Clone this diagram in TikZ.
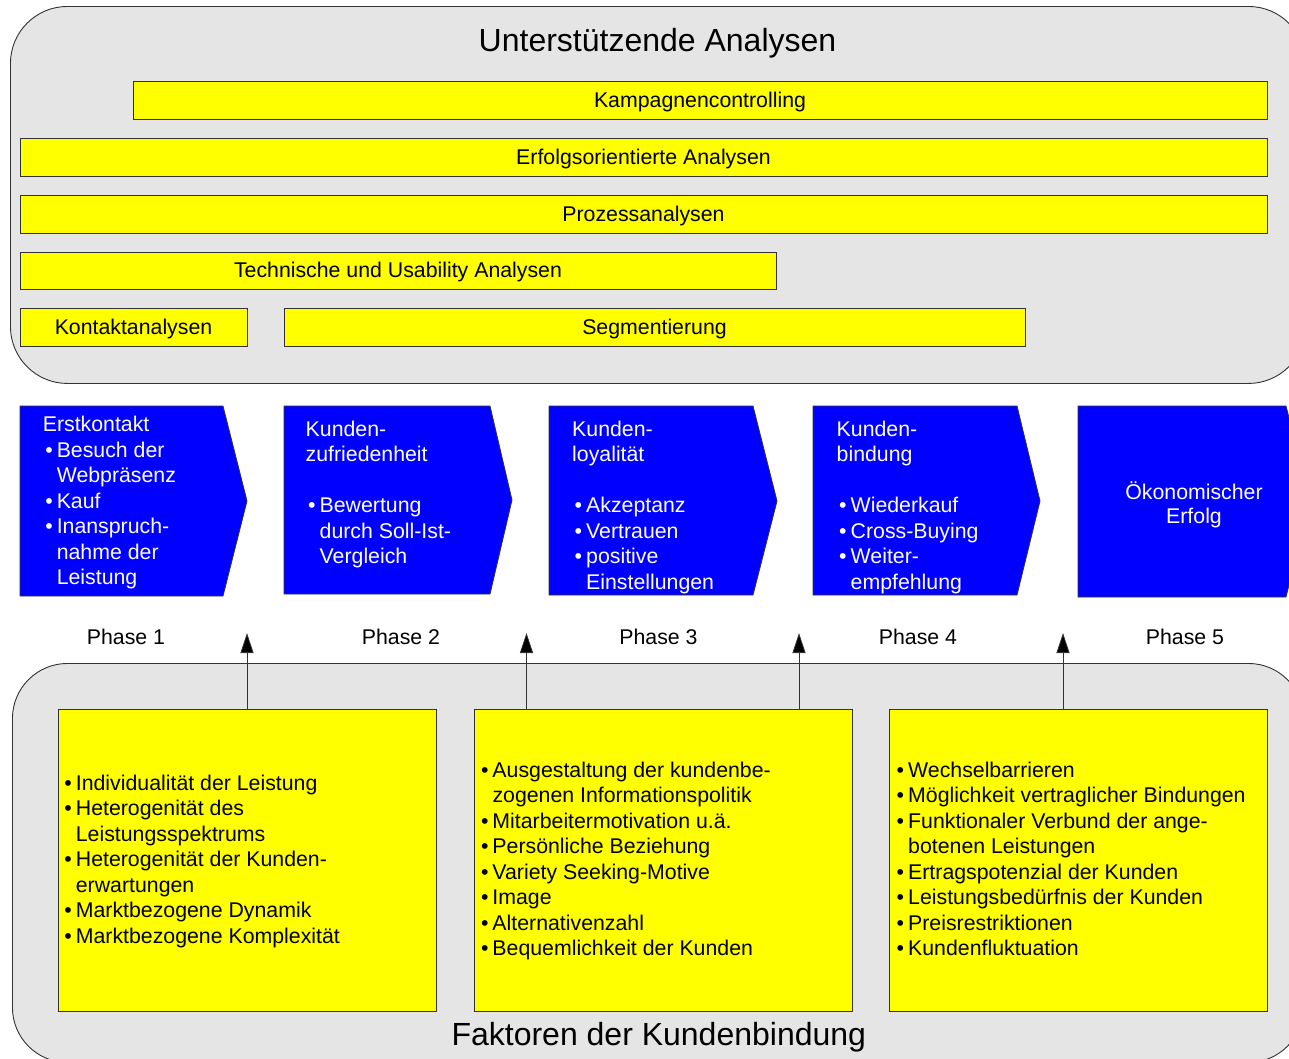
\documentclass[tikz,border=0pt]{standalone}
\usepackage{fontspec}
\setmainfont{Liberation Sans}
\usetikzlibrary{arrows.meta}

\definecolor{panelgray}{HTML}{E5E5E5}
\definecolor{baryellow}{HTML}{FFFF00}
\definecolor{phaseblue}{HTML}{0000FF}
\definecolor{edgegray}{HTML}{333333}

% line kinds: H = plain line, B = bulleted line, C = continuation of a bullet
\newcommand\lnH[1]{#1}
\newcommand\lnB[1]{\makebox[14pt][l]{\hspace{2.5pt}\textbullet}#1}
\newcommand\lnC[1]{\hspace*{14pt}#1}

% #1 name prefix, #2 x, #3 first baseline, #4 list of kind/text, #5 text colour
\newcommand\textlines[5]{%
  \foreach \kind/\words [count=\i from 0] in {#4}{%
    \node[txt, text=#5, anchor=base west] (#1-\i) at (#2, {#3+25.5*\i})
      {\csname ln\kind\endcsname{\words}};
  }}

\tikzset{
  panel/.style={draw=edgegray, line width=0.9pt, fill=panelgray, inner sep=0pt},
  title/.style={font=\fontsize{32}{38}\selectfont, inner sep=0pt},
  txt/.style={font=\fontsize{21.3}{25.5}\selectfont, inner sep=0pt},
  bar/.style={draw=edgegray, line width=0.8pt, fill=baryellow, inner sep=0pt,
    minimum height=38pt, text height=14pt, text depth=0pt,
    font=\fontsize{21.3}{25.5}\selectfont},
  factorbox/.style={draw=edgegray, line width=0.8pt, fill=baryellow, inner sep=0pt,
    anchor=north west, minimum width=378pt, minimum height=302pt},
  phase/.style={draw=edgegray, line width=0.8pt, fill=phaseblue},
  conn/.style={draw=edgegray, line width=0.8pt,
    -{Triangle[length=20pt,width=13pt,fill=black]}},
}

\begin{document}
\begin{tikzpicture}[x=1pt, y=-1pt]
\useasboundingbox (0,0) rectangle (1289,1058);
\clip (0,0) rectangle (1289,1058);
\fill[white] (0,0) rectangle (1289,1058);

% --- supporting analyses panel ---
\node[panel, anchor=north west, minimum width=1295pt, minimum height=377pt,
  rounded corners=57pt] (top) at (10,6) {};
\node[title, anchor=base] (topTitle) at (657.5,51.7) {Unterstützende Analysen};

\node[bar, minimum width=1134pt] (kc) at (700,100) {Kampagnencontrolling};
\node[bar, minimum width=1247pt] (ea) at (643.5,157) {Erfolgsorientierte Analysen};
\node[bar, minimum width=1247pt] (pa) at (643.5,214) {Prozessanalysen};
\node[bar, minimum width=756pt, minimum height=37pt] (tu) at (398,270.5) {Technische und Usability Analysen};
\node[bar, minimum width=227pt] (ka) at (133.5,327) {Kontaktanalysen};
\node[bar, minimum width=741pt] (sg) at (654.5,327) {Segmentierung};

% --- phase arrows ---
\path[phase] (20,406) -- (223,406) -- (247,501) -- (223,596) -- (20,596) -- cycle;
\path[phase] (284,406) -- (490,406) -- (512,500) -- (490,594) -- (284,594) -- cycle;
\path[phase] (549,406) -- (753,406) -- (777,501) -- (753,595) -- (549,595) -- cycle;
\path[phase] (813,406) -- (1017,406) -- (1040,501) -- (1017,595) -- (813,595) -- cycle;
\path[phase] (1078,406) -- (1286,406) -- (1310,501) -- (1286,597) -- (1078,597) -- cycle;

\textlines{ph1}{42.6}{431.5}{H/Erstkontakt, B/Besuch der, C/Webpräsenz, B/Kauf,
  B/Inanspruch-, C/nahme der, C/Leistung}{white}
\textlines{ph2}{305.5}{436}{H/Kunden-, H/zufriedenheit, H/{}, B/Bewertung,
  C/durch Soll-Ist-, C/Vergleich}{white}
\textlines{ph3}{572}{436}{H/Kunden-, H/loyalität, H/{}, B/Akzeptanz, B/Vertrauen,
  B/positive, C/Einstellungen}{white}
\textlines{ph4}{836.5}{436}{H/Kunden-, H/bindung, H/{}, B/Wiederkauf,
  B/Cross-Buying, B/Weiter-, C/empfehlung}{white}
\node[txt, text=white, anchor=base] (ph5-0) at (1194,499.5) {Ökonomischer};
\node[txt, text=white, anchor=base] (ph5-1) at (1194,523.5) {Erfolg};

\node[txt, anchor=base] (lab1) at (126,644) {Phase 1};
\node[txt, anchor=base] (lab2) at (401,644) {Phase 2};
\node[txt, anchor=base] (lab3) at (658.5,644) {Phase 3};
\node[txt, anchor=base] (lab4) at (918,644) {Phase 4};
\node[txt, anchor=base] (lab5) at (1185,644) {Phase 5};

% --- customer retention factors panel ---
\node[panel, anchor=north west, minimum width=1291pt, minimum height=399pt,
  rounded corners=55pt] (bottom) at (12,663) {};
\node[title, anchor=base] (bottomTitle) at (658.8,1045) {Faktoren der Kundenbindung};

\node[factorbox] (f1) at (57.5,709) {};
\node[factorbox] (f2) at (473.5,709) {};
\node[factorbox] (f3) at (889.3,709) {};

\textlines{fa}{61.7}{790}{B/Individualität der Leistung, B/Heterogenität des,
  C/Leistungsspektrums, B/Heterogenität der Kunden-, C/erwartungen,
  B/Marktbezogene Dynamik, B/Marktbezogene Komplexität}{black}
\textlines{fb}{478.3}{777}{B/Ausgestaltung der kundenbe-, C/zogenen Informationspolitik,
  B/Mitarbeitermotivation u.ä., B/Persönliche Beziehung, B/Variety Seeking-Motive,
  B/Image, B/Alternativenzahl, B/Bequemlichkeit der Kunden}{black}
\textlines{fc}{894}{777}{B/Wechselbarrieren, B/Möglichkeit vertraglicher Bindungen,
  B/Funktionaler Verbund der ange-, C/botenen Leistungen, B/Ertragspotenzial der Kunden,
  B/Leistungsbedürfnis der Kunden, B/Preisrestriktionen, B/Kundenfluktuation}{black}

% --- influence arrows ---
\coordinate (in1) at (247,633);
\coordinate (in2) at (526.5,633);
\coordinate (in3) at (799,633);
\coordinate (in4) at (1063,633);
\draw[conn] (in1 |- f1.north) -- (in1);
\draw[conn] (in2 |- f2.north) -- (in2);
\draw[conn] (in3 |- f2.north) -- (in3);
\draw[conn] (in4 |- f3.north) -- (in4);
\end{tikzpicture}
\end{document}
